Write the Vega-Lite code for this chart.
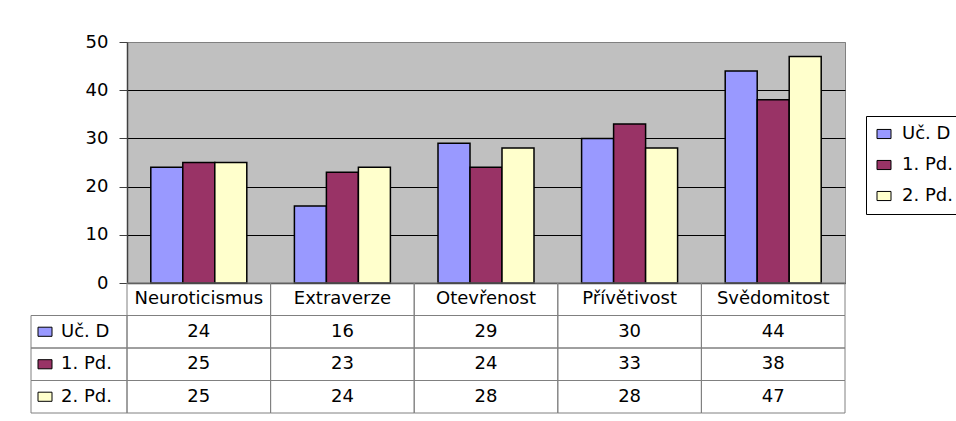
{
  "$schema": "https://vega.github.io/schema/vega-lite/v6.json",
  "padding": {"left": 30, "top": 32, "right": 4, "bottom": 4},
  "background": "white",
  "config": {
    "font": "DejaVu Sans",
    "view": {"stroke": null},
    "text": {"fontSize": 18, "color": "black"}
  },
  "data": {
    "values": [
      {"cat": "Neuroticismus", "series": "Uč. D", "value": 24},
      {"cat": "Neuroticismus", "series": "1. Pd.", "value": 25},
      {"cat": "Neuroticismus", "series": "2. Pd.", "value": 25},
      {"cat": "Extraverze", "series": "Uč. D", "value": 16},
      {"cat": "Extraverze", "series": "1. Pd.", "value": 23},
      {"cat": "Extraverze", "series": "2. Pd.", "value": 24},
      {"cat": "Otevřenost", "series": "Uč. D", "value": 29},
      {"cat": "Otevřenost", "series": "1. Pd.", "value": 24},
      {"cat": "Otevřenost", "series": "2. Pd.", "value": 28},
      {"cat": "Přívětivost", "series": "Uč. D", "value": 30},
      {"cat": "Přívětivost", "series": "1. Pd.", "value": 33},
      {"cat": "Přívětivost", "series": "2. Pd.", "value": 28},
      {"cat": "Svědomitost", "series": "Uč. D", "value": 44},
      {"cat": "Svědomitost", "series": "1. Pd.", "value": 38},
      {"cat": "Svědomitost", "series": "2. Pd.", "value": 47}
    ]
  },
  "columns": 2,
  "spacing": 0,
  "bounds": "flush",
  "resolve": {
    "scale": {"x": "independent", "y": "independent", "color": "independent"},
    "legend": {"color": "independent"}
  },
  "concat": [
    {
      "width": 96,
      "height": 241,
      "data": {"values": []},
      "mark": "rect",
      "encoding": {}
    },
    {
      "width": 718,
      "height": 241,
      "view": {"fill": "#C0C0C0", "stroke": "#808080"},
      "mark": {"type": "bar", "stroke": "black", "strokeWidth": 1.5},
      "encoding": {
        "x": {
          "field": "cat", "type": "nominal",
          "sort": ["Neuroticismus", "Extraverze", "Otevřenost", "Přívětivost", "Svědomitost"],
          "scale": {"paddingInner": 0.3315, "paddingOuter": 0.1657},
          "axis": {"labels": false, "ticks": false, "title": null, "domainColor": "#404040", "domainWidth": 1.5}
        },
        "xOffset": {"field": "series", "type": "nominal", "sort": ["Uč. D", "1. Pd.", "2. Pd."]},
        "y": {
          "field": "value", "type": "quantitative",
          "scale": {"domain": [0, 50]},
          "axis": {
            "values": [0, 10, 20, 30, 40, 50],
            "title": null,
            "grid": true,
            "gridColor": {"condition": {"test": "datum.value == 50", "value": "#808080"}, "value": "black"},
            "gridWidth": 1,
            "gridOpacity": 1,
            "tickSize": 8,
            "tickColor": "#404040",
            "domainColor": "#404040",
            "domainWidth": 1.5,
            "labelPadding": 11,
            "labelFontSize": 18,
            "labelColor": "black",
            "labelFont": "DejaVu Sans"
          }
        },
        "color": {
          "field": "series", "type": "nominal",
          "scale": {"domain": ["Uč. D", "1. Pd.", "2. Pd."], "range": ["#9999FF", "#993366", "#FFFFCC"]},
          "legend": {
            "orient": "none",
            "legendX": 739,
            "legendY": 74,
            "title": null,
            "strokeColor": "black",
            "fillColor": "white",
            "padding": 9,
            "labelFontSize": 18,
            "labelColor": "black",
            "labelFont": "DejaVu Sans",
            "symbolType": "M-1,-0.65H1V0.65H-1Z",
            "symbolSize": 196,
            "symbolStrokeColor": "black",
            "symbolStrokeWidth": 1,
            "symbolOpacity": 1,
            "rowPadding": 13,
            "labelOffset": 9
          }
        }
      }
    },
    {
      "width": 96,
      "height": 130,
      "transform": [{"aggregate": [{"op": "count", "as": "n"}], "groupby": ["series"]}],
      "layer": [
        {
          "mark": {"type": "rect", "filled": false, "stroke": "#808080", "strokeWidth": 1},
          "encoding": {
            "y": {
              "field": "series", "type": "nominal",
              "scale": {"domain": ["hdr", "Uč. D", "1. Pd.", "2. Pd."], "paddingInner": 0, "paddingOuter": 0},
              "axis": null
            }
          }
        },
        {
          "mark": {"type": "point", "shape": "M-1,-0.65H1V0.65H-1Z", "size": 196, "filled": true, "stroke": "black", "strokeWidth": 1, "opacity": 1},
          "encoding": {
            "y": {"field": "series", "type": "nominal"},
            "x": {"datum": "key", "type": "nominal", "scale": {"type": "point", "domain": ["key", "name"], "range": [14, 30], "padding": 0}, "axis": null},
            "color": {
              "field": "series", "type": "nominal",
              "scale": {"domain": ["Uč. D", "1. Pd.", "2. Pd."], "range": ["#9999FF", "#993366", "#FFFFCC"]},
              "legend": null
            }
          }
        },
        {
          "mark": {"type": "text", "align": "left", "baseline": "middle", "fontSize": 18, "color": "black"},
          "encoding": {
            "y": {"field": "series", "type": "nominal"},
            "x": {"datum": "name", "type": "nominal"},
            "text": {"field": "series"}
          }
        }
      ]
    },
    {
      "width": 718,
      "height": 130,
      "layer": [
        {
          "mark": {"type": "rect", "filled": false, "stroke": "#808080", "strokeWidth": 1},
          "encoding": {
            "x": {
              "field": "cat", "type": "nominal",
              "scale": {"domain": ["Neuroticismus", "Extraverze", "Otevřenost", "Přívětivost", "Svědomitost"], "paddingInner": 0, "paddingOuter": 0},
              "axis": null
            },
            "y": {
              "field": "series", "type": "nominal",
              "scale": {"domain": ["hdr", "Uč. D", "1. Pd.", "2. Pd."], "paddingInner": 0, "paddingOuter": 0},
              "axis": null
            }
          }
        },
        {
          "mark": {"type": "text", "baseline": "middle", "fontSize": 18, "color": "black"},
          "encoding": {
            "x": {"field": "cat", "type": "nominal"},
            "y": {"field": "series", "type": "nominal"},
            "text": {"field": "value", "type": "quantitative"}
          }
        },
        {
          "transform": [{"aggregate": [{"op": "count", "as": "n"}], "groupby": ["cat"]}],
          "layer": [
            {
              "mark": {"type": "rect", "filled": false, "stroke": "#808080", "strokeWidth": 1},
              "encoding": {
                "x": {"field": "cat", "type": "nominal"},
                "y": {"datum": "hdr", "type": "nominal"}
              }
            },
            {
              "mark": {"type": "text", "baseline": "middle", "fontSize": 18, "color": "black"},
              "encoding": {
                "x": {"field": "cat", "type": "nominal"},
                "y": {"datum": "hdr", "type": "nominal"},
                "text": {"field": "cat"}
              }
            }
          ]
        }
      ]
    }
  ]
}
